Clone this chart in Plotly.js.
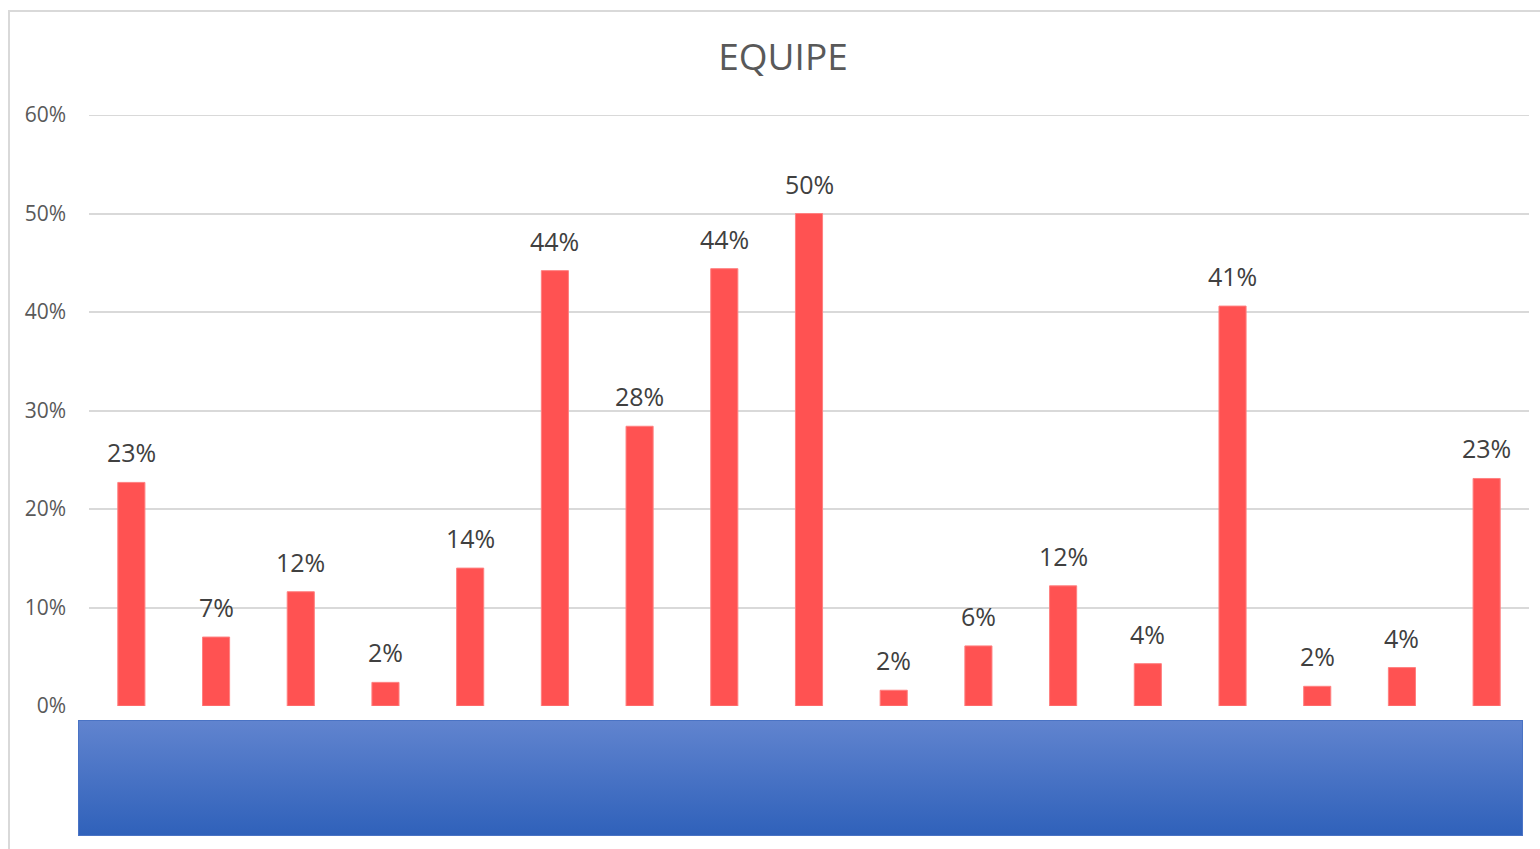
<!DOCTYPE html>
<html>
<head>
<meta charset="utf-8">
<script src="https://cdn.plot.ly/plotly-3.0.1.min.js"></script>
<style>
html,body{margin:0;padding:0;background:#fff;}
#wrap{position:relative;width:1540px;height:849px;overflow:hidden;}
#chart{width:1540px;height:849px;}
#frame{position:absolute;left:8px;top:10px;width:1600px;height:900px;border-left:2px solid #D9D9D9;border-top:2px solid #D9D9D9;pointer-events:none;}
</style>
</head>
<body>
<div id="wrap"><div id="chart"></div><div id="frame"></div></div>
<script>
const categories = ["Q1","Q2","Q3","Q4","Q5","Q6","Q7","Q8","Q9","Q10","Q11","Q12","Q13","Q14","Q15","Q16","Q17"];
const values = [0.227, 0.070, 0.116, 0.024, 0.140, 0.442, 0.284, 0.444, 0.500, 0.016, 0.061, 0.122, 0.043, 0.406, 0.020, 0.039, 0.231];
const yTickVals = [0, 0.1, 0.2, 0.3, 0.4, 0.5, 0.6];
const yTickText = ["0%", "10%", "20%", "30%", "40%", "50%", "60%"];
const chartTitle = "EQUIPE";

const font = '"Open Sans", "Segoe UI", "DejaVu Sans", sans-serif';

const trace = {
  type: 'bar',
  x: categories,
  y: values,
  marker: {color: '#FF5252', line: {color: '#FF8080', width: 1}},
  hoverinfo: 'skip'
};

const annotations = categories.map((c, i) => ({
  x: i, y: values[i], xref: 'x', yref: 'y',
  text: Math.round(values[i] * 100) + '%',
  showarrow: false, yanchor: 'bottom', yshift: 11,
  font: {family: font, size: 25, color: '#404040'}
}));

const gradSvg = '<svg xmlns="http://www.w3.org/2000/svg" width="1445" height="116" preserveAspectRatio="none">' +
  '<defs><linearGradient id="g" x1="0" y1="0" x2="0" y2="1">' +
  '<stop offset="0" stop-color="#6184CF"/><stop offset="1" stop-color="#2F61BA"/></linearGradient></defs>' +
  '<rect x="0" y="0" width="1445" height="116" fill="url(#g)" stroke="#4A73C4" stroke-width="2"/></svg>';
const gradUri = 'data:image/svg+xml;charset=utf-8,' + encodeURIComponent(gradSvg);

const plotL = 89, plotR = 1529, plotT = 115, plotB = 706;
const pw = plotR - plotL, ph = plotB - plotT;

const layout = {
  width: 1540, height: 849,
  margin: {l: plotL, r: 1540 - plotR, t: plotT, b: 849 - plotB, pad: 0},
  paper_bgcolor: '#ffffff', plot_bgcolor: '#ffffff',
  title: {
    text: chartTitle,
    font: {family: font, size: 37, color: '#595959'},
    x: 783 / 1540, xref: 'container', xanchor: 'center',
    y: 1 - 57 / 849, yref: 'container', yanchor: 'middle'
  },
  bargap: 0.68,
  showlegend: false,
  xaxis: {
    type: 'category', range: [-0.5, categories.length - 0.5],
    showticklabels: false, showgrid: false,
    zeroline: false, showline: false, ticks: '', fixedrange: true
  },
  yaxis: {
    range: [0, 0.6], tickvals: yTickVals, ticktext: yTickText,
    showgrid: true, gridcolor: '#D9D9D9', gridwidth: 2,
    zeroline: false, showline: false, ticks: '',
    ticklabelstandoff: 22,
    tickfont: {family: font, size: 21, color: '#595959'},
    fixedrange: true
  },
  shapes: [{
    type: 'line', xref: 'paper', yref: 'y', x0: 0, x1: 1,
    y0: yTickVals[yTickVals.length - 1], y1: yTickVals[yTickVals.length - 1],
    line: {color: '#D9D9D9', width: 2}, layer: 'below'
  }],
  annotations: annotations,
  images: [{
    source: gradUri, xref: 'paper', yref: 'paper',
    x: (78 - plotL) / pw, y: (plotB - 720) / ph,
    sizex: 1445 / pw, sizey: 116 / ph,
    xanchor: 'left', yanchor: 'top', sizing: 'stretch', layer: 'above'
  }]
};

Plotly.newPlot('chart', [trace], layout, {displayModeBar: false, staticPlot: true});
</script>
</body>
</html>
